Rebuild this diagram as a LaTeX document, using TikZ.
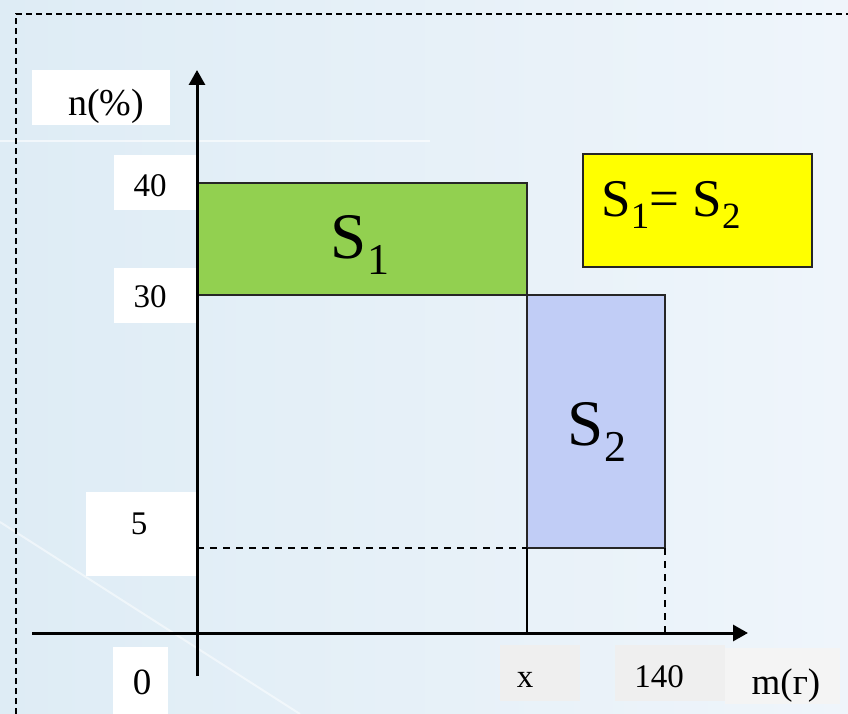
\documentclass[tikz,border=0pt]{standalone}
\usepackage{fontspec}
\setmainfont{Liberation Serif}
\usepackage{tikz}
\usetikzlibrary{arrows.meta}
\definecolor{bgleft}{HTML}{DEECF5}
\definecolor{bgright}{HTML}{EFF5FB}
\definecolor{grass}{HTML}{92D050}
\definecolor{lilac}{HTML}{C1CDF6}
\definecolor{lemon}{HTML}{FFFF00}
\definecolor{chip}{HTML}{EFEFEF}
\newcommand{\fs}[1]{\fontsize{#1}{#1}\selectfont}
\newcommand{\area}[4]{{\fs{#2}S\raisebox{-#4em}{\fs{#3}#1}}}

\begin{document}
\begin{tikzpicture}[x=1pt,y=-1pt,every node/.style={inner sep=0pt,font=\fs{33}},
      frame/.style={line width=1.7pt,dash pattern=on 6pt off 4pt},
      guide/.style={line width=1.8pt,dash pattern=on 6.5pt off 6.5pt},
      part/.style={draw=black!85,line width=1.6pt},
      axis/.style={line width=3pt,-{Triangle[length=15pt,width=16pt]}}]
      \useasboundingbox (0,0) rectangle (848,714);
      \shade[left color=bgleft,right color=bgright] (0,0) rectangle (848,714);
      \draw[white,opacity=.6,line width=2pt] (0,141) -- (430,141);
      \draw[white,opacity=.5,line width=2pt] (0,522) -- (300,714);
      \draw[frame] (16,714) -- (16,14) -- (848,14);
      % label boxes
      \fill[white] (32,70) rectangle (170,125);
      \fill[white] (114,155) rectangle (197,210);
      \fill[white] (114,268) rectangle (197,323);
      \fill[white] (86,492) rectangle (197,576);
      \fill[white] (113,647) rectangle (168,714);
      \fill[chip] (500,645) rectangle (580,701);
      \fill[chip] (615,645) rectangle (725,701);
      \fill[chip!70!white] (725,648) rectangle (840,704);
      % areas
      \filldraw[part,fill=grass] (197,183) rectangle (527,295);
      \filldraw[part,fill=lilac] (527,295) rectangle (665,548);
      \draw[line width=1.6pt] (527,548) -- (527,633);
      \draw[guide] (197,548) -- (527,548);
      \draw[guide] (665,548) -- (665,633);
      \filldraw[part,fill=lemon] (583,154) rectangle (812,267);
      % axes
      \coordinate (ybot) at (197,676); \coordinate (ytop) at (197,70);
      \coordinate (xl) at (32,633); \coordinate (xr) at (748,633);
      \draw[axis] (ybot) -- (ytop);
      \draw[axis] (xl) -- (xr);
      % texts
      \node[font=\fs{38}] (n) at (106,106) {n(\%)};
      \node (t40) at (150,186) {40};
      \node (t30) at (150,297) {30};
      \node (t5) at (139,524) {5};
      \node[font=\fs{37}] (t0) at (142,682) {0};
      \node (tx) at (525,680) {x};
      \node (t140) at (659,677) {140};
      \node[font=\fs{37}] (m) at (786,686) {m(г)};
      \node (s1) at (360,245) {\area{1}{65}{44}{.26}};
      \node (s2) at (597,432) {\area{2}{65}{44}{.26}};
      \node (eq) at (671,205) {\area{1}{53}{37}{.21}{\fs{53}= }\area{2}{53}{37}{.21}};
    \end{tikzpicture}
\end{document}
